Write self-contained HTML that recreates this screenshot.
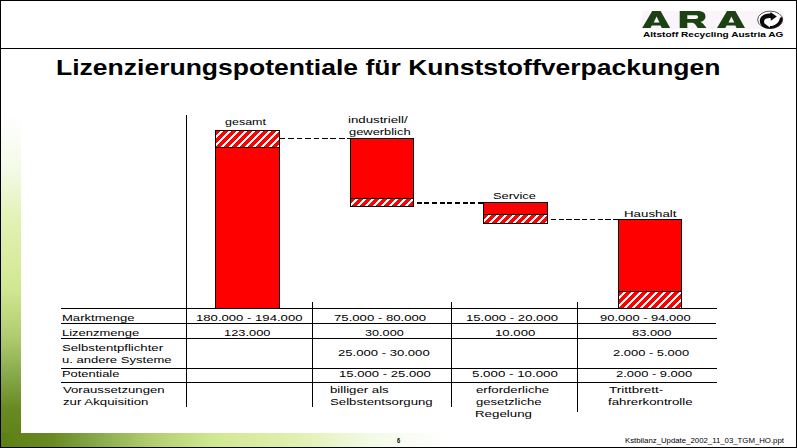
<!DOCTYPE html>
<html><head><meta charset="utf-8"><title>Lizenzierungspotentiale</title>
<style>
html,body{margin:0;padding:0;background:#fff;}
body{width:797px;height:448px;position:relative;overflow:hidden;font-family:"Liberation Sans",sans-serif;color:#000;}
.a{position:absolute;}
.k{position:absolute;background:#000;}
.t{position:absolute;white-space:nowrap;transform-origin:0 0;line-height:10px;height:40px;}
.t i{display:inline-block;width:0;height:30px;}
.b{font-weight:bold;}
</style></head><body>
<div class="a" style="left:1px;top:114px;width:20px;height:333px;background:linear-gradient(to bottom,#ffffff 0%,#f4fae8 16.4%,#e2f1b4 32.1%,#d0e891 52.4%,#b2cd70 66.3%,#8aac4e 77.5%,#698a23 88.3%,#5d8014 100%)"></div>
<div class="a" style="left:1px;top:433px;width:445px;height:14px;background:linear-gradient(to right,#5d8014 0%,#698a23 11.7%,#8aac4e 22.5%,#b2cd70 33.7%,#d0e891 47.6%,#e2f1b4 67.9%,#f4fae8 83.6%,#ffffff 100%)"></div>
<div class="k" style="left:0;top:0;width:797px;height:1px"></div>
<div class="k" style="left:0;top:447px;width:797px;height:1px"></div>
<div class="k" style="left:0;top:0;width:1px;height:448px"></div>
<div class="k" style="left:796px;top:0;width:1px;height:448px"></div>
<div class="k" style="left:0;top:48px;width:797px;height:1px"></div>
<svg class="a" style="left:0;top:0" width="797" height="48" viewBox="0 0 797 48"><rect x="642" y="11" width="142" height="18" fill="#fbf4fb"/><g fill="#1c4214" fill-rule="evenodd"><path transform="translate(642.2,11)" d="M0,17 L10,0 L18.4,0 L28,17 L19.6,17 L18.3,14.4 L9.6,14.4 L8.3,17 Z M11.5,11.4 L17.3,11.4 L14.4,5.6 Z"/><path transform="translate(679.7,11)" d="M0,17 L0,0 L18,0 C23.5,0 25.8,2.2 25.8,5.6 C25.8,8.6 23.8,10.3 20.6,10.9 C22.3,11.6 23.4,12.6 24.4,14 L26.8,17 L18,17 L15.6,13.6 C14.6,12.2 13.6,11.8 11.8,11.8 L7.6,11.8 L7.6,17 Z M7.6,4.2 L7.6,7.9 L15.6,7.9 C17.6,7.9 18.4,7.2 18.4,6 C18.4,4.8 17.6,4.2 15.6,4.2 Z"/><path transform="translate(717,11)" d="M0,17 L10,0 L18.4,0 L28,17 L19.6,17 L18.3,14.4 L9.6,14.4 L8.3,17 Z M11.5,11.4 L17.3,11.4 L14.4,5.6 Z"/></g><g transform="translate(757,10.5)"><ellipse cx="13.15" cy="9.3" rx="12.5" ry="8.7" fill="#fff" stroke="#111" stroke-width="0.7"/><path fill="#0a0a0a" d="M2.9,9.3 C3.4,5.5 7.5,3.1 11.9,3.1 L13.4,3.1 L13.4,1.6 L19.8,6 L13.9,10.3 L13.6,7.6 C10.5,7.3 7.4,8.2 7,10.8 L7.5,12.9 L12.9,17 L12.9,15.6 C18,15.4 22,12.5 23,7.2 L25.2,6.5 C26.8,11 23,17.6 13.4,18.2 C6,18.5 2.2,14 2.9,9.3 Z"/></g></svg>
<svg class="a" style="left:0;top:0" width="797" height="448" viewBox="0 0 797 448" shape-rendering="crispEdges"><defs><pattern id="hp" width="8" height="8" patternUnits="userSpaceOnUse"><rect width="8" height="8" fill="#f00"/><g fill="#fff"><rect x="0" y="0" width="1" height="1"/><rect x="6" y="0" width="1" height="1"/><rect x="7" y="0" width="1" height="1"/><rect x="5" y="1" width="1" height="1"/><rect x="6" y="1" width="1" height="1"/><rect x="7" y="1" width="1" height="1"/><rect x="4" y="2" width="1" height="1"/><rect x="5" y="2" width="1" height="1"/><rect x="6" y="2" width="1" height="1"/><rect x="3" y="3" width="1" height="1"/><rect x="4" y="3" width="1" height="1"/><rect x="5" y="3" width="1" height="1"/><rect x="2" y="4" width="1" height="1"/><rect x="3" y="4" width="1" height="1"/><rect x="4" y="4" width="1" height="1"/><rect x="1" y="5" width="1" height="1"/><rect x="2" y="5" width="1" height="1"/><rect x="3" y="5" width="1" height="1"/><rect x="0" y="6" width="1" height="1"/><rect x="1" y="6" width="1" height="1"/><rect x="2" y="6" width="1" height="1"/><rect x="0" y="7" width="1" height="1"/><rect x="1" y="7" width="1" height="1"/><rect x="7" y="7" width="1" height="1"/></g></pattern></defs><rect x="215.5" y="130.5" width="64" height="178" fill="#f00" stroke="#000"/><svg x="215" y="130" width="65" height="18" overflow="visible"><rect x="0.5" y="0.5" width="64" height="17" fill="url(#hp)" stroke="#000"/></svg><rect x="350.5" y="138.5" width="63" height="68" fill="#f00" stroke="#000"/><svg x="350" y="198" width="64" height="9" overflow="visible"><rect x="0.5" y="0.5" width="63" height="8" fill="url(#hp)" stroke="#000"/></svg><rect x="483.5" y="202.5" width="64" height="21" fill="#f00" stroke="#000"/><svg x="483" y="214" width="65" height="10" overflow="visible"><rect x="0.5" y="0.5" width="64" height="9" fill="url(#hp)" stroke="#000"/></svg><rect x="618.5" y="219.5" width="63" height="89" fill="#f00" stroke="#000"/><svg x="618" y="291" width="64" height="18" overflow="visible"><rect x="0.5" y="0.5" width="63" height="17" fill="url(#hp)" stroke="#000"/></svg><line x1="279.6" y1="138.5" x2="350" y2="138.5" stroke="#000" stroke-dasharray="5.7 2.775"/><line x1="416.8" y1="203" x2="483" y2="203" stroke="#000" stroke-width="2" stroke-dasharray="5 2.65"/><line x1="550.8" y1="219.5" x2="618" y2="219.5" stroke="#000" stroke-dasharray="5.3 2.5"/><rect x="61" y="308" width="656" height="1"/><rect x="61" y="323" width="655" height="1"/><rect x="61" y="338" width="656" height="1"/><rect x="61" y="368" width="656" height="1"/><rect x="61" y="382" width="656" height="1"/><rect x="186" y="115" width="1" height="292"/><rect x="312" y="302" width="1" height="105"/><rect x="451" y="302" width="1" height="105"/><rect x="577" y="302" width="1" height="110"/></svg>
<div class="t b" style="left:55.75px;top:45.0px;font-size:21.3px;transform:scaleX(1.2452)"><i></i>Lizenzierungspotentiale für Kunststoffverpackungen</div>
<div class="t" style="left:225.40px;top:95.0px;font-size:9.8px;transform:scaleX(1.2745)"><i></i>gesamt</div>
<div class="t" style="left:347.98px;top:93.0px;font-size:9.8px;transform:scaleX(1.3522)"><i></i>industriell/</div>
<div class="t" style="left:349.00px;top:105.0px;font-size:9.8px;transform:scaleX(1.3151)"><i></i>gewerblich</div>
<div class="t" style="left:492.95px;top:169.0px;font-size:9.8px;transform:scaleX(1.3119)"><i></i>Service</div>
<div class="t" style="left:624.37px;top:187.0px;font-size:9.8px;transform:scaleX(1.3564)"><i></i>Haushalt</div>
<div class="t" style="left:61.98px;top:291.0px;font-size:9.8px;transform:scaleX(1.3322)"><i></i>Marktmenge</div>
<div class="t" style="left:61.98px;top:306.0px;font-size:9.8px;transform:scaleX(1.3252)"><i></i>Lizenzmenge</div>
<div class="t" style="left:61.98px;top:321.0px;font-size:9.8px;transform:scaleX(1.3446)"><i></i>Selbstentpflichter</div>
<div class="t" style="left:61.99px;top:333.0px;font-size:9.8px;transform:scaleX(1.3317)"><i></i>u. andere Systeme</div>
<div class="t" style="left:61.96px;top:347.0px;font-size:9.8px;transform:scaleX(1.3161)"><i></i>Potentiale</div>
<div class="t" style="left:63.00px;top:363.0px;font-size:9.8px;transform:scaleX(1.3420)"><i></i>Voraussetzungen</div>
<div class="t" style="left:63.00px;top:375.0px;font-size:9.8px;transform:scaleX(1.3518)"><i></i>zur Akquisition</div>
<div class="t" style="left:195.69px;top:291.0px;font-size:9.8px;transform:scaleX(1.3389)"><i></i>180.000 - 194.000</div>
<div class="t" style="left:223.76px;top:306.0px;font-size:9.8px;transform:scaleX(1.3112)"><i></i>123.000</div>
<div class="t" style="left:334.40px;top:291.0px;font-size:9.8px;transform:scaleX(1.3430)"><i></i>75.000 - 80.000</div>
<div class="t" style="left:364.60px;top:306.0px;font-size:9.8px;transform:scaleX(1.2916)"><i></i>30.000</div>
<div class="t" style="left:338.00px;top:326.0px;font-size:9.8px;transform:scaleX(1.3356)"><i></i>25.000 - 30.000</div>
<div class="t" style="left:339.28px;top:347.0px;font-size:9.8px;transform:scaleX(1.3374)"><i></i>15.000 - 25.000</div>
<div class="t" style="left:330.06px;top:363.0px;font-size:9.8px;transform:scaleX(1.3475)"><i></i>billiger als</div>
<div class="t" style="left:330.09px;top:375.0px;font-size:9.8px;transform:scaleX(1.3469)"><i></i>Selbstentsorgung</div>
<div class="t" style="left:466.28px;top:291.0px;font-size:9.8px;transform:scaleX(1.3403)"><i></i>15.000 - 20.000</div>
<div class="t" style="left:495.26px;top:306.0px;font-size:9.8px;transform:scaleX(1.3440)"><i></i>10.000</div>
<div class="t" style="left:472.37px;top:347.0px;font-size:9.8px;transform:scaleX(1.3596)"><i></i>5.000 - 10.000</div>
<div class="t" style="left:475.60px;top:363.0px;font-size:9.8px;transform:scaleX(1.3420)"><i></i>erforderliche</div>
<div class="t" style="left:475.60px;top:375.0px;font-size:9.8px;transform:scaleX(1.3361)"><i></i>gesetzliche</div>
<div class="t" style="left:474.59px;top:387.0px;font-size:9.8px;transform:scaleX(1.3595)"><i></i>Regelung</div>
<div class="t" style="left:599.90px;top:291.0px;font-size:9.8px;transform:scaleX(1.3212)"><i></i>90.000 - 94.000</div>
<div class="t" style="left:632.09px;top:306.0px;font-size:9.8px;transform:scaleX(1.3145)"><i></i>83.000</div>
<div class="t" style="left:613.21px;top:326.0px;font-size:9.8px;transform:scaleX(1.3196)"><i></i>2.000 - 5.000</div>
<div class="t" style="left:616.09px;top:347.0px;font-size:9.8px;transform:scaleX(1.3196)"><i></i>2.000 - 9.000</div>
<div class="t" style="left:608.50px;top:363.0px;font-size:9.8px;transform:scaleX(1.3758)"><i></i>Trittbrett-</div>
<div class="t" style="left:608.49px;top:375.0px;font-size:9.8px;transform:scaleX(1.3504)"><i></i>fahrerkontrolle</div>
<div class="t b" style="left:397.00px;top:413.0px;font-size:7px;transform:scaleX(0.8188)"><i></i>6</div>
<div class="t" style="left:624.50px;top:413.0px;font-size:7px;transform:scaleX(1.1139)"><i></i>Kstbilanz_Update_2002_11_03_TGM_HO.ppt</div>
<div class="t b" style="left:643.00px;top:6.7px;font-size:6.6px;transform:scaleX(1.5294)"><i></i>Altstoff Recycling Austria AG</div>
</body></html>
